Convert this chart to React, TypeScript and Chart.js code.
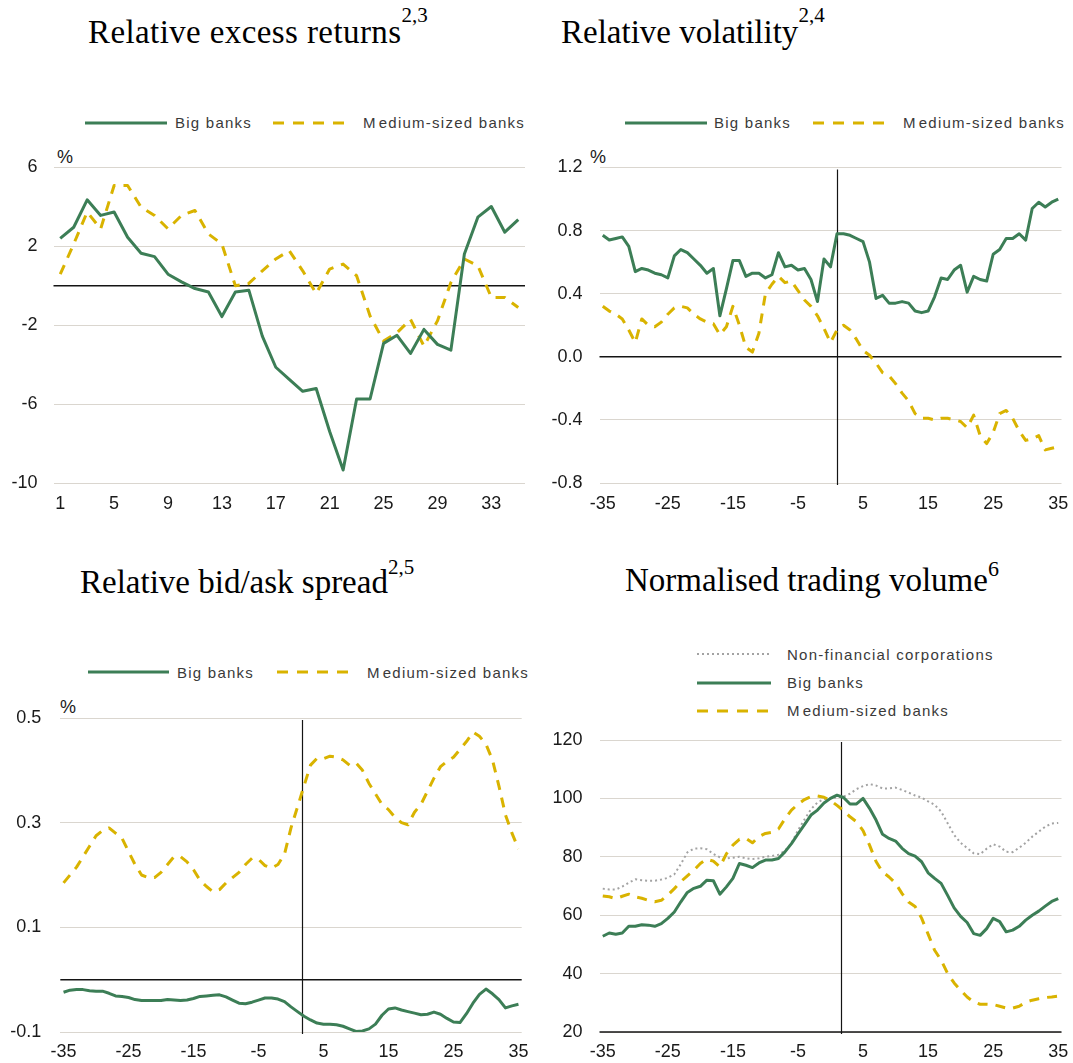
import React, { useEffect, useRef } from 'react';
import { Chart, registerables } from 'chart.js';

Chart.register(...registerables);

const GREEN = '#3c7e56';
const GOLD = '#d9b300';
const DOT_GREY = '#a3a3a3';
const GRID = '#dad6cf';
const AXIS_BLACK = '#141414';
const TEXT = '#1a1a1a';
const LEGEND_TEXT = '#3a3a3a';
const SANS = "'Liberation Sans', Arial, Helvetica, sans-serif";
const SERIF = "'Liberation Serif', 'Times New Roman', serif";

// ---------- Panel 1: Relative excess returns ----------
const returnDays = Array.from({ length: 35 }, (_, i) => String(i + 1));
const returnsBig = [2.41, 2.97, 4.36, 3.57, 3.74, 2.46, 1.65, 1.48, 0.59, 0.2, -0.14, -0.31, -1.56, -0.31, -0.22, -2.55, -4.13, -4.75, -5.35, -5.21, -7.39, -9.34, -5.74, -5.74, -2.92, -2.51, -3.43, -2.21, -2.97, -3.26, 1.61, 3.48, 4.02, 2.72, 3.36];
const returnsMedium = [0.59, 2.12, 3.74, 2.89, 5.09, 5.09, 3.99, 3.57, 2.89, 3.57, 3.82, 2.63, 2.12, 0.0, 0.12, 0.76, 1.36, 1.78, 0.76, -0.39, 0.85, 1.1, 0.51, -1.53, -2.8, -2.38, -1.7, -3.06, -1.78, 0.17, 1.36, 1.02, -0.59, -0.59, -1.1];
const returnsTicks = [6, 2, -2, -6, -10];

// ---------- Shared event window ----------
const eventDays = Array.from({ length: 71 }, (_, i) => String(i - 35));

// ---------- Panel 2: Relative volatility ----------
const volBig = [0.77, 0.74, 0.75, 0.76, 0.7, 0.54, 0.56, 0.55, 0.53, 0.52, 0.5, 0.64, 0.68, 0.66, 0.62, 0.58, 0.53, 0.56, 0.26, 0.43, 0.61, 0.61, 0.51, 0.53, 0.53, 0.5, 0.52, 0.66, 0.57, 0.58, 0.55, 0.56, 0.49, 0.35, 0.62,
  0.57, 0.78, 0.78, 0.77, 0.75, 0.73, 0.6, 0.37, 0.39, 0.34, 0.34, 0.35, 0.34, 0.29, 0.28, 0.29, 0.38, 0.5, 0.49, 0.55, 0.58, 0.41, 0.51, 0.49, 0.48, 0.65, 0.68, 0.75, 0.75, 0.78, 0.74, 0.94, 0.98, 0.95, 0.98, 1.0];
const volMedium = [0.32, 0.29, 0.27, 0.24, 0.17, 0.09, 0.24, 0.2, 0.19, 0.22, 0.27, 0.31, 0.32, 0.31, 0.27, 0.24, 0.22, 0.21, 0.14, 0.19, 0.32, 0.2, 0.06, 0.03, 0.15, 0.4, 0.46, 0.51, 0.47, 0.48, 0.42, 0.36, 0.32, 0.26, 0.18,
  0.09, 0.17, 0.2, 0.17, 0.11, 0.04, 0.01, -0.04, -0.1, -0.12, -0.17, -0.23, -0.28, -0.36, -0.39, -0.39, -0.4, -0.39, -0.39, -0.4, -0.41, -0.45, -0.37, -0.5, -0.55, -0.48, -0.36, -0.34, -0.39, -0.47, -0.53, -0.52, -0.5, -0.59, -0.58, -0.57];
const volTicks = [1.2, 0.8, 0.4, 0.0, -0.4, -0.8];

// ---------- Panel 3: Relative bid/ask spread ----------
const spreadBig = [-0.024, -0.02, -0.019, -0.019, -0.021, -0.022, -0.022, -0.026, -0.031, -0.032, -0.034, -0.038, -0.04, -0.04, -0.04, -0.04, -0.038, -0.039, -0.04, -0.039, -0.036, -0.032, -0.031, -0.03, -0.029, -0.033, -0.039, -0.045, -0.046, -0.043, -0.039, -0.035, -0.035, -0.037, -0.042,
  -0.052, -0.061, -0.07, -0.077, -0.083, -0.085, -0.085, -0.086, -0.089, -0.094, -0.099, -0.098, -0.094, -0.085, -0.068, -0.056, -0.054, -0.058, -0.061, -0.064, -0.067, -0.066, -0.062, -0.066, -0.074, -0.081, -0.082, -0.065, -0.045, -0.028, -0.018, -0.027, -0.038, -0.054, -0.05, -0.047];
const spreadMedium = [0.185, 0.2, 0.215, 0.235, 0.255, 0.275, 0.285, 0.29, 0.28, 0.27, 0.245, 0.22, 0.2, 0.195, 0.195, 0.205, 0.22, 0.235, 0.235, 0.225, 0.21, 0.19, 0.178, 0.168, 0.172, 0.185, 0.195, 0.205, 0.22, 0.232, 0.23, 0.218, 0.213, 0.22, 0.24,
  0.29, 0.33, 0.37, 0.41, 0.423, 0.422, 0.427, 0.425, 0.42, 0.41, 0.414, 0.4, 0.375, 0.355, 0.335, 0.325, 0.31, 0.3, 0.296, 0.32, 0.335, 0.36, 0.385, 0.407, 0.417, 0.425, 0.44, 0.455, 0.473, 0.465, 0.45, 0.42, 0.37, 0.315, 0.28, 0.25];
const spreadTicks = [0.5, 0.3, 0.1, -0.1];

// ---------- Panel 4: Normalised trading volume ----------
const tradeNonFin = [69.1, 68.8, 68.8, 69.8, 71.1, 72.3, 72.0, 71.8, 71.8, 72.2, 72.8, 74.0, 77.5, 81.5, 82.8, 82.9, 82.6, 81.0, 79.8, 79.4, 79.7, 80.0, 79.5, 79.2, 79.5, 80.0, 80.3, 80.7, 82.1, 84.6, 89.1, 92.8, 96.3, 98.6, 99.8,
  100.0, 100.4, 100.6, 101.6, 103.2, 104.2, 104.9, 104.4, 103.4, 103.4, 103.7, 102.9, 102.0, 101.0, 100.3, 99.0, 97.8, 95.5, 91.5, 87.5, 84.8, 83.0, 81.2, 80.9, 82.8, 84.3, 83.5, 81.7, 81.6, 83.1, 84.8, 86.9, 88.6, 90.3, 91.4, 91.6];
const tradeBig = [52.8, 53.9, 53.5, 53.9, 56.2, 56.2, 56.7, 56.6, 56.2, 57.1, 58.9, 61.1, 64.6, 67.8, 69.2, 69.9, 72.0, 71.8, 67.2, 69.7, 72.6, 77.7, 77.1, 76.3, 77.9, 78.9, 78.9, 79.4, 81.7, 84.5, 87.8, 91.0, 94.3, 96.0, 98.4,
  100.0, 101.1, 100.3, 98.1, 98.1, 100.0, 96.6, 92.6, 87.7, 86.3, 85.4, 82.9, 81.1, 80.2, 78.3, 74.5, 72.6, 70.9, 66.8, 62.5, 59.6, 57.5, 53.7, 53.1, 55.4, 58.9, 57.8, 54.3, 54.9, 56.2, 58.3, 60.0, 61.4, 63.1, 64.7, 65.7];
const tradeMedium = [66.6, 66.3, 65.7, 66.5, 67.2, 66.3, 65.8, 65.1, 64.6, 65.1, 66.9, 69.1, 71.5, 73.5, 75.4, 77.7, 79.2, 78.5, 76.6, 81.0, 84.0, 86.0, 86.3, 84.8, 86.9, 88.0, 88.4, 89.5, 93.0, 96.0, 98.0, 99.6, 100.6, 100.8, 100.4,
  99.3, 97.6, 95.8, 93.7, 92.0, 89.0, 84.0, 78.4, 74.8, 73.1, 70.9, 67.4, 64.5, 63.0, 59.0, 53.5, 48.0, 44.6, 40.0, 36.8, 34.3, 32.0, 30.3, 29.5, 29.5, 29.4, 28.8, 28.2, 28.2, 28.8, 30.2, 30.9, 31.4, 31.8, 32.0, 32.3];
const tradeTicks = [120, 100, 80, 60, 40, 20];

// ---------- Reference line plugin ----------
const refLines = {
  id: 'refLines',
  beforeDatasetsDraw(chart: any, _args: any, opts: any) {
    const { ctx, chartArea, scales } = chart;
    ctx.save();
    ctx.strokeStyle = AXIS_BLACK;
    (opts.y || []).forEach((v: number) => {
      const py = scales.y.getPixelForValue(v);
      ctx.lineWidth = 1.5;
      ctx.beginPath();
      ctx.moveTo(chartArea.left, py);
      ctx.lineTo(chartArea.right, py);
      ctx.stroke();
    });
    (opts.x || []).forEach((v: number) => {
      const px = Math.round(scales.x.getPixelForValue(v)) + 0.5;
      ctx.lineWidth = 1.2;
      ctx.beginPath();
      ctx.moveTo(px, chartArea.top + 2);
      ctx.lineTo(px, chartArea.bottom + 2);
      ctx.stroke();
    });
    ctx.restore();
  },
};

type Series = { data: number[]; color: string; dash: number[]; width: number };
type PanelProps = {
  box: [number, number, number, number];
  plot: [number, number, number, number];
  labels: string[];
  xEvery: number;
  series: Series[];
  yMin: number;
  yMax: number;
  yTicks: number[];
  yFmt: (v: number) => string;
  xPad: number;
  yPad: number;
  hLines: number[];
  vLines: number[];
};

function ChartPanel(p: PanelProps) {
  const ref = useRef<HTMLCanvasElement>(null);
  const [left, top, w, h] = p.box;
  useEffect(() => {
    const [pl, pt, pr, pb] = p.plot;
    const chart = new Chart(ref.current as HTMLCanvasElement, {
      type: 'line',
      data: {
        labels: p.labels,
        datasets: p.series.map((s) => ({
          data: s.data,
          borderColor: s.color,
          borderWidth: s.width,
          borderDash: s.dash,
          pointRadius: 0,
          fill: false,
          tension: 0,
          borderCapStyle: 'butt',
          borderJoinStyle: 'round',
        })),
      } as any,
      options: {
        animation: false,
        responsive: false,
        maintainAspectRatio: false,
        devicePixelRatio: 1,
        events: [],
        layout: { padding: { top: pt - top, right: left + w - pr, left: 0, bottom: 0 } },
        plugins: {
          legend: { display: false },
          tooltip: { enabled: false },
          refLines: { y: p.hLines, x: p.vLines },
        } as any,
        scales: {
          x: {
            type: 'category',
            offset: true,
            grid: { display: false, drawTicks: false },
            border: { display: false },
            ticks: {
              autoSkip: false,
              maxRotation: 0,
              minRotation: 0,
              padding: p.xPad,
              color: TEXT,
              font: { family: SANS, size: 18 },
              callback: (_v: any, i: number) => (i % p.xEvery === 0 ? p.labels[i] : ''),
            },
            afterFit: (s: any) => {
              s.height = top + h - pb;
              s.paddingLeft = 0;
              s.paddingRight = 0;
            },
          },
          y: {
            type: 'linear',
            min: p.yMin,
            max: p.yMax,
            grid: { color: GRID, lineWidth: 1, drawTicks: false },
            border: { display: false },
            ticks: {
              padding: p.yPad,
              color: TEXT,
              font: { family: SANS, size: 18 },
              callback: (v: any) => p.yFmt(Number(v)),
            },
            afterBuildTicks: (s: any) => {
              s.ticks = p.yTicks.map((v) => ({ value: v }));
            },
            afterFit: (s: any) => {
              s.width = pl - left;
              s.paddingTop = 0;
              s.paddingBottom = 0;
            },
          },
        } as any,
      },
      plugins: [refLines as any],
    });
    return () => chart.destroy();
  }, []);
  return (
    <canvas
      ref={ref}
      width={w}
      height={h}
      style={{ position: 'absolute', left, top, width: w, height: h }}
    />
  );
}

function Title(props: { x: number; baseline: number; text: string; sup: string; raise: number; supSize: number; spacing?: number }) {
  const size = 33;
  const top = props.baseline - 27.6;
  return (
    <div
      style={{
        position: 'absolute',
        left: props.x,
        top,
        fontFamily: SERIF,
        fontSize: size,
        lineHeight: `${size}px`,
        letterSpacing: `${props.spacing || 0}px`,
        color: '#000',
        whiteSpace: 'nowrap',
      }}
    >
      {props.text}
      <span style={{ fontSize: props.supSize, position: 'relative', top: -props.raise, letterSpacing: 0 }}>{props.sup}</span>
    </div>
  );
}

function Pct(props: { x: number; baseline: number }) {
  return (
    <div
      style={{
        position: 'absolute',
        left: props.x,
        top: props.baseline - 15.2,
        fontFamily: SANS,
        fontSize: 18,
        lineHeight: '18px',
        color: TEXT,
      }}
    >
      %
    </div>
  );
}

function LegendLine(props: { x1: number; x2: number; y: number; color: string; dash?: string; width: number }) {
  const w = props.x2 - props.x1;
  return (
    <svg
      width={w}
      height={8}
      style={{ position: 'absolute', left: props.x1, top: props.y - 4, overflow: 'visible' }}
    >
      <line x1={0} y1={4} x2={w} y2={4} stroke={props.color} strokeWidth={props.width} strokeDasharray={props.dash} />
    </svg>
  );
}

function LegendText(props: { x: number; y: number; text: string }) {
  const first = props.text.charAt(0);
  const rest = props.text.slice(1);
  const gapAfterFirst = first === 'M';
  return (
    <div
      style={{
        position: 'absolute',
        left: props.x,
        top: props.y - 7.5,
        fontFamily: SANS,
        fontSize: 15,
        lineHeight: '15px',
        letterSpacing: '1.25px',
        color: LEGEND_TEXT,
        whiteSpace: 'nowrap',
      }}
    >
      {gapAfterFirst ? (
        <>
          <span style={{ marginRight: 2 }}>{first}</span>
          {rest}
        </>
      ) : (
        props.text
      )}
    </div>
  );
}

const fmtInt = (v: number) => String(Math.round(v));
const fmt1 = (v: number) => v.toFixed(1);

export default function App() {
  return (
    <div style={{ position: 'absolute', left: 0, top: 0, width: 1073, height: 1063, background: '#fff', overflow: 'hidden' }}>
      {/* Titles */}
      <Title x={88} baseline={44} text="Relative excess returns" sup="2,3" raise={21} supSize={21} spacing={0.4} />
      <Title x={561} baseline={44} text="Relative volatility" sup="2,4" raise={21} supSize={21} />
      <Title x={80} baseline={594} text="Relative bid/ask spread" sup="2,5" raise={19} supSize={21} />
      <Title x={625} baseline={592} text="Normalised trading volume" sup="6" raise={15} supSize={22} />

      {/* Legends panel 1 */}
      <LegendLine x1={85} x2={167} y={122.5} color={GREEN} width={3} />
      <LegendText x={175} y={122.5} text="Big banks" />
      <LegendLine x1={273} x2={349} y={122.5} color={GOLD} width={3} dash="11 9" />
      <LegendText x={363} y={122.5} text="Medium-sized banks" />

      {/* Legends panel 2 */}
      <LegendLine x1={625} x2={707} y={122.5} color={GREEN} width={3} />
      <LegendText x={714} y={122.5} text="Big banks" />
      <LegendLine x1={813} x2={890} y={122.5} color={GOLD} width={3} dash="11 9" />
      <LegendText x={903} y={122.5} text="Medium-sized banks" />

      {/* Legends panel 3 */}
      <LegendLine x1={88} x2={169} y={672} color={GREEN} width={3} />
      <LegendText x={177} y={672} text="Big banks" />
      <LegendLine x1={277} x2={353} y={672} color={GOLD} width={3} dash="11 9" />
      <LegendText x={367} y={672} text="Medium-sized banks" />

      {/* Legends panel 4 */}
      <LegendLine x1={697} x2={771} y={654} color={DOT_GREY} width={2} dash="2 3" />
      <LegendText x={787} y={654} text="Non-financial corporations" />
      <LegendLine x1={697} x2={771} y={682.5} color={GREEN} width={3} />
      <LegendText x={787} y={682.5} text="Big banks" />
      <LegendLine x1={697} x2={771} y={710.5} color={GOLD} width={3} dash="11 9" />
      <LegendText x={787} y={710.5} text="Medium-sized banks" />

      {/* Unit labels */}
      <Pct x={57} baseline={163} />
      <Pct x={590} baseline={163} />
      <Pct x={60} baseline={713} />

      <ChartPanel
        box={[0, 150, 535, 370]}
        plot={[53.5, 167.5, 525, 483]}
        labels={returnDays}
        xEvery={4}
        series={[
          { data: returnsBig, color: GREEN, dash: [], width: 3 },
          { data: returnsMedium, color: GOLD, dash: [10, 8], width: 3 },
        ]}
        yMin={-10}
        yMax={6}
        yTicks={returnsTicks}
        yFmt={fmtInt}
        xPad={10}
        yPad={16}
        hLines={[0]}
        vLines={[]}
      />
      <ChartPanel
        box={[540, 150, 533, 370]}
        plot={[599.5, 167.5, 1061.5, 483]}
        labels={eventDays}
        xEvery={10}
        series={[
          { data: volBig, color: GREEN, dash: [], width: 3 },
          { data: volMedium, color: GOLD, dash: [10, 8], width: 3 },
        ]}
        yMin={-0.8}
        yMax={1.2}
        yTicks={volTicks}
        yFmt={fmt1}
        xPad={10}
        yPad={17}
        hLines={[0]}
        vLines={[35.95]}
      />
      <ChartPanel
        box={[0, 700, 535, 363]}
        plot={[60.3, 718, 521.7, 1032]}
        labels={eventDays}
        xEvery={10}
        series={[
          { data: spreadBig, color: GREEN, dash: [], width: 3 },
          { data: spreadMedium, color: GOLD, dash: [10, 8], width: 3 },
        ]}
        yMin={-0.1}
        yMax={0.5}
        yTicks={spreadTicks}
        yFmt={fmt1}
        xPad={9}
        yPad={19}
        hLines={[0]}
        vLines={[36.7]}
      />
      <ChartPanel
        box={[540, 722, 533, 341]}
        plot={[599.5, 740, 1061.5, 1032]}
        labels={eventDays}
        xEvery={10}
        series={[
          { data: tradeBig, color: GREEN, dash: [], width: 3 },
          { data: tradeMedium, color: GOLD, dash: [10, 8], width: 3 },
          { data: tradeNonFin, color: DOT_GREY, dash: [2, 3], width: 2 },
        ]}
        yMin={20}
        yMax={120}
        yTicks={tradeTicks}
        yFmt={fmtInt}
        xPad={9}
        yPad={17}
        hLines={[20]}
        vLines={[36.6]}
      />
    </div>
  );
}
